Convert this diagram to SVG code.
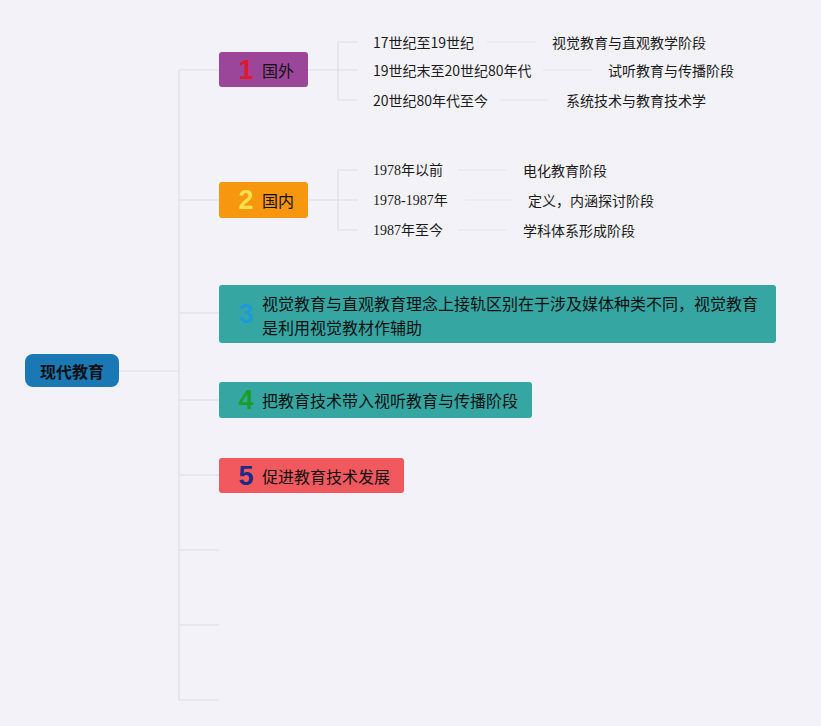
<svg xmlns="http://www.w3.org/2000/svg" width="821" height="726" viewBox="0 0 821 726">
<style>
.t{font-family:"Noto Sans CJK SC","Liberation Sans",sans-serif;font-size:14px;fill:#1a1a1a;dominant-baseline:central}
.m{font-size:16px;fill:#111}
.r{font-size:16px;font-weight:bold;fill:#111;text-anchor:middle}
.s{font-family:"Liberation Serif","Noto Sans CJK SC",serif;font-size:14px;fill:#1a1a1a;dominant-baseline:central}
.n{font-family:"Liberation Sans","Noto Sans",sans-serif;font-size:27px;font-weight:bold;dominant-baseline:central;text-anchor:middle}
.c{stroke:#dcdce2;stroke-width:1.2;fill:none}
.c2{stroke:#e3e3e9;stroke-width:1.2;fill:none}
</style>
<rect width="821" height="726" fill="#f3f2f8"/>
<g id="connectors">
<path class="c" d="M118 371H179M179 70V700M179 70H219M179 200H219M179 313H219M179 400H219M179 475H219M179 550H219M179 625H219M179 700H219"/>
<path class="c" d="M308 70H338M338 42V100M338 42H358M338 70H358M338 100H358"/>
<path class="c" d="M308 200H338M338 170V230M338 170H358M338 200H358M338 230H358"/>
<path class="c2" d="M487 42H536M543 70H592M500 100H548M458 170H507M465 200H512M458 230H507"/>
</g>
<g id="root">
<rect x="25" y="354" width="94" height="33" rx="8" fill="#1a78b4"/>
<text class="t r" x="72" y="371">现代教育</text>
</g>
<g id="n1">
<rect x="219" y="52" width="89" height="35" rx="3" fill="#9b4698"/>
<text class="n" x="246" y="70" fill="#e0182d">1</text>
<text class="t m" x="262" y="70">国外</text>
</g>
<g id="n1a"><text class="t" x="373" y="42">17世纪至19世纪</text></g>
<g id="n1a1"><text class="t" x="552" y="42">视觉教育与直观教学阶段</text></g>
<g id="n1b"><text class="t" x="373" y="70">19世纪末至20世纪80年代</text></g>
<g id="n1b1"><text class="t" x="608" y="70">试听教育与传播阶段</text></g>
<g id="n1c"><text class="t" x="373" y="100">20世纪80年代至今</text></g>
<g id="n1c1"><text class="t" x="566" y="100">系统技术与教育技术学</text></g>
<g id="n2">
<rect x="219" y="182" width="89" height="36" rx="3" fill="#f7960f"/>
<text class="n" x="246" y="200" fill="#f8e04a">2</text>
<text class="t m" x="262" y="200">国内</text>
</g>
<g id="n2a"><text class="s" x="373" y="170">1978年以前</text></g>
<g id="n2a1"><text class="t" x="523" y="170">电化教育阶段</text></g>
<g id="n2b"><text class="s" x="373" y="200">1978-1987年</text></g>
<g id="n2b1"><text class="t" x="528" y="200">定义，内涵探讨阶段</text></g>
<g id="n2c"><text class="s" x="373" y="230">1987年至今</text></g>
<g id="n2c1"><text class="t" x="523" y="230">学科体系形成阶段</text></g>
<g id="n3">
<rect x="219" y="285" width="557" height="58" rx="3" fill="#36a6a2"/>
<text class="n" x="246" y="314" fill="#1e9ad8">3</text>
<text class="t m" x="262" y="303">视觉教育与直观教育理念上接轨区别在于涉及媒体种类不同，视觉教育</text>
<text class="t m" x="262" y="327">是利用视觉教材作辅助</text>
</g>
<g id="n4">
<rect x="219" y="382" width="313" height="36" rx="3" fill="#36a6a2"/>
<text class="n" x="246" y="400" fill="#1a9e2a">4</text>
<text class="t m" x="262" y="400">把教育技术带入视听教育与传播阶段</text>
</g>
<g id="n5">
<rect x="219" y="458" width="185" height="35" rx="3" fill="#f2595e"/>
<text class="n" x="246" y="475.5" fill="#1f2a86">5</text>
<text class="t m" x="262" y="475.5">促进教育技术发展</text>
</g>
</svg>
